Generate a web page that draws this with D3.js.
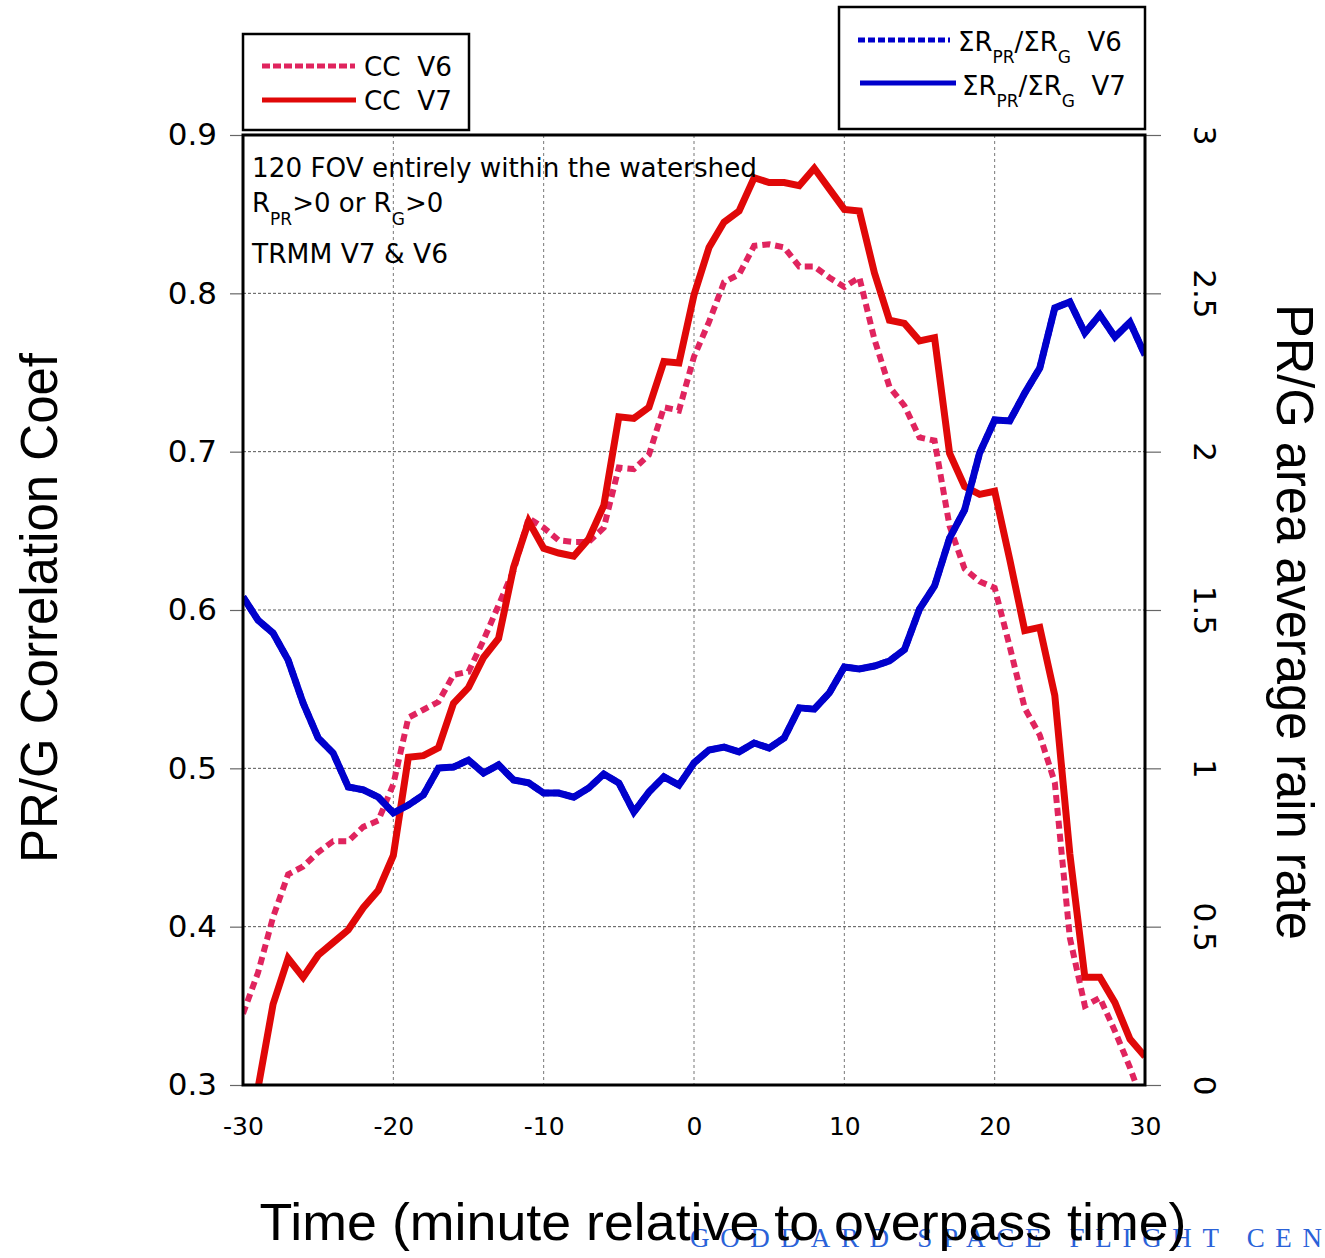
<!DOCTYPE html>
<html>
<head>
<meta charset="utf-8">
<script src="https://cdn.jsdelivr.net/npm/d3@7"></script>
<style>
  html, body { margin: 0; padding: 0; background: #fff; }
  svg { display: block; }
</style>
</head>
<body>
<svg id="chart" width="1325" height="1258"></svg>
<script>
// Time axis (minutes relative to overpass time)
const minutes = [-30,-29,-28,-27,-26,-25,-24,-23,-22,-21,-20,-19,-18,-17,-16,-15,-14,-13,-12,-11,-10,
  -9,-8,-7,-6,-5,-4,-3,-2,-1,0,1,2,3,4,5,6,7,8,9,10,11,12,13,14,15,16,17,18,19,20,
  21,22,23,24,25,26,27,28,29,30];

// PR/G correlation coefficient, V6 and V7
const ccV6 = [0.345,0.371,0.406,0.433,0.438,0.447,0.454,0.454,0.463,0.467,0.490,
  0.532,0.537,0.542,0.559,0.561,0.581,0.603,0.625,0.658,0.652,
  0.644,0.643,0.643,0.652,0.690,0.689,0.698,0.728,0.726,0.760,
  0.782,0.807,0.812,0.830,0.831,0.829,0.817,0.817,0.810,0.804,
  0.810,0.771,0.741,0.729,0.709,0.707,0.653,0.626,0.618,0.614,
  0.577,0.538,0.521,0.491,0.393,0.350,0.355,0.334,0.311,0.285];
const ccV7 = [0.250,0.298,0.351,0.380,0.368,0.382,0.390,0.398,0.412,0.423,0.445,
  0.507,0.508,0.513,0.541,0.551,0.570,0.582,0.627,0.656,0.639,
  0.636,0.634,0.645,0.666,0.722,0.721,0.728,0.757,0.756,0.799,
  0.829,0.845,0.852,0.873,0.870,0.870,0.868,0.879,0.866,0.853,
  0.852,0.813,0.783,0.781,0.770,0.772,0.699,0.678,0.673,0.675,
  0.632,0.587,0.589,0.546,0.446,0.368,0.368,0.352,0.329,0.318];

// Ratio of area-summed PR rain to gauge rain, V6 and V7
const ratioV6 = [1.541,1.468,1.427,1.342,1.206,1.096,1.048,0.941,0.932,0.909,0.859,
  0.884,0.916,1.001,1.004,1.026,0.985,1.011,0.963,0.954,0.922,
  0.922,0.909,0.938,0.982,0.954,0.862,0.925,0.973,0.947,1.017,
  1.058,1.067,1.052,1.080,1.064,1.096,1.191,1.187,1.238,1.320,
  1.314,1.323,1.339,1.375,1.503,1.576,1.727,1.816,1.996,2.100,
  2.097,2.185,2.264,2.454,2.473,2.375,2.432,2.362,2.409,2.305];
const ratioV7 = [1.541,1.468,1.427,1.342,1.206,1.096,1.048,0.941,0.932,0.909,0.859,
  0.884,0.916,1.001,1.004,1.026,0.985,1.011,0.963,0.954,0.922,
  0.922,0.909,0.938,0.982,0.954,0.862,0.925,0.973,0.947,1.017,
  1.058,1.067,1.052,1.080,1.064,1.096,1.191,1.187,1.238,1.320,
  1.314,1.323,1.339,1.375,1.503,1.576,1.727,1.816,1.996,2.100,
  2.097,2.185,2.264,2.454,2.473,2.375,2.432,2.362,2.409,2.305];

// Tick values and labels
const xTicks = [-30,-20,-10,0,10,20,30];
const leftTicks = [0.3,0.4,0.5,0.6,0.7,0.8,0.9];
const rightTicks = [0,0.5,1,1.5,2,2.5,3];
const rightTickLabels = ["0","0.5","1","1.5","2","2.5","3"];

const RED = "#e00808", PINK = "#e0245e", BLUE = "#0000cc";
const TICK_FONT = "'DejaVu Sans', sans-serif";
const TITLE_FONT = "'Liberation Sans', Arial, sans-serif";
const GAP = "\u00A0\u00A0";

const svg = d3.select("#chart");
const plot = {left: 243, right: 1145, top: 135, bottom: 1085};

const x = d3.scaleLinear().domain([-30, 30]).range([plot.left, plot.right]);
const yL = d3.scaleLinear().domain([0.3, 0.9]).range([plot.bottom, plot.top]);
const yR = d3.scaleLinear().domain([0, 3]).range([plot.bottom, plot.top]);

// Watermark strip along the bottom edge
svg.append("text")
  .attr("x", 690).attr("y", 1247)
  .attr("textLength", 632).attr("lengthAdjust", "spacing")
  .style("font-family", "'Liberation Serif', serif")
  .style("font-size", "27px")
  .style("fill", "#2a62d8")
  .text("GODDARD SPACE FLIGHT CEN");

svg.append("clipPath").attr("id", "plotClip")
  .append("rect")
  .attr("x", plot.left).attr("y", plot.top)
  .attr("width", plot.right - plot.left).attr("height", plot.bottom - plot.top);

// Grid
const grid = svg.append("g");
grid.selectAll("line.h").data(leftTicks.slice(1, -1)).join("line")
  .attr("x1", plot.left).attr("x2", plot.right)
  .attr("y1", d => yL(d)).attr("y2", d => yL(d))
  .attr("stroke", "#555").attr("stroke-width", 1).attr("stroke-dasharray", "3,2");
grid.selectAll("line.v").data(xTicks.slice(1, -1)).join("line")
  .attr("y1", plot.top).attr("y2", plot.bottom)
  .attr("x1", d => x(d)).attr("x2", d => x(d))
  .attr("stroke", "#777").attr("stroke-width", 1).attr("stroke-dasharray", "3,3");

// Axes (ticks outside the frame)
const leftAxis = d3.axisLeft(yL).tickValues(leftTicks).tickSize(13).tickFormat(d3.format(".1f")).tickPadding(13);
const gl = svg.append("g").attr("transform", `translate(${plot.left},0)`).call(leftAxis);
gl.select(".domain").remove();
gl.selectAll(".tick line").attr("stroke", "#666").attr("stroke-width", 1.2);
gl.selectAll(".tick text").style("font-family", TICK_FONT).style("font-size", "31px").attr("fill", "#000");

const rightAxis = d3.axisRight(yR).tickValues(rightTicks).tickSize(16).tickFormat((d, i) => rightTickLabels[i]);
const gr = svg.append("g").attr("transform", `translate(${plot.right},0)`).call(rightAxis);
gr.select(".domain").remove();
gr.selectAll(".tick line").attr("stroke", "#666").attr("stroke-width", 1.2);
gr.selectAll(".tick text")
  .attr("x", 0).attr("y", 0).attr("dy", null)
  .attr("text-anchor", "middle")
  .attr("transform", "translate(48,0) rotate(90) translate(0,-1)")
  .style("font-family", TICK_FONT).style("font-size", "31px").attr("fill", "#000");

const bottomAxis = d3.axisBottom(x).tickValues(xTicks).tickSize(0).tickPadding(32).tickFormat(d3.format("d"));
const gb = svg.append("g").attr("transform", `translate(0,${plot.bottom})`).call(bottomAxis);
gb.select(".domain").remove();
gb.selectAll(".tick text").style("font-family", TICK_FONT).style("font-size", "25px").attr("fill", "#000")
  .text(d => d < 0 ? "-" + Math.abs(d) : String(d));

// Series lines
const lines = svg.append("g").attr("clip-path", "url(#plotClip)");
const lineL = vals => d3.line().x((d, i) => x(minutes[i])).y(d => yL(d))(vals);
const lineR = vals => d3.line().x((d, i) => x(minutes[i])).y(d => yR(d))(vals);

lines.append("path").attr("d", lineR(ratioV6))
  .attr("fill", "none").attr("stroke", BLUE).attr("stroke-width", 6.5).attr("stroke-dasharray", "7,4");
lines.append("path").attr("d", lineL(ccV6))
  .attr("fill", "none").attr("stroke", PINK).attr("stroke-width", 6).attr("stroke-dasharray", "8,5");
lines.append("path").attr("d", lineL(ccV7))
  .attr("fill", "none").attr("stroke", RED).attr("stroke-width", 7);
lines.append("path").attr("d", lineR(ratioV7))
  .attr("fill", "none").attr("stroke", BLUE).attr("stroke-width", 7);

// Frame
svg.append("rect")
  .attr("x", plot.left).attr("y", plot.top)
  .attr("width", plot.right - plot.left).attr("height", plot.bottom - plot.top)
  .attr("fill", "none").attr("stroke", "#000").attr("stroke-width", 3);

// Annotation block
const ann = svg.append("g").style("font-family", TICK_FONT).style("font-size", "26px").attr("fill", "#000");
ann.append("text").attr("x", 252).attr("y", 177).attr("textLength", 505).attr("lengthAdjust", "spacingAndGlyphs")
  .text("120 FOV entirely within the watershed");
const t2 = ann.append("text").attr("x", 252).attr("y", 212);
t2.append("tspan").text("R");
t2.append("tspan").attr("dy", 13).style("font-size", "17px").text("PR");
t2.append("tspan").attr("dy", -13).text(">0 or R");
t2.append("tspan").attr("dy", 13).style("font-size", "17px").text("G");
t2.append("tspan").attr("dy", -13).text(">0");
ann.append("text").attr("x", 252).attr("y", 263).attr("textLength", 196).attr("lengthAdjust", "spacingAndGlyphs")
  .text("TRMM V7 & V6");

// Legend: correlation coefficients
const lg1 = svg.append("g");
lg1.append("rect").attr("x", 243).attr("y", 34).attr("width", 226).attr("height", 96)
  .attr("fill", "#fff").attr("stroke", "#000").attr("stroke-width", 2.5);
lg1.append("line").attr("x1", 262).attr("x2", 355).attr("y1", 66).attr("y2", 66)
  .attr("stroke", PINK).attr("stroke-width", 5).attr("stroke-dasharray", "8,3");
lg1.append("line").attr("x1", 262).attr("x2", 356).attr("y1", 100).attr("y2", 100)
  .attr("stroke", RED).attr("stroke-width", 5);
const lgText1 = lg1.append("g").style("font-family", TICK_FONT).style("font-size", "26px").attr("fill", "#000");
lgText1.append("text").attr("x", 364).attr("y", 76).attr("textLength", 88).attr("lengthAdjust", "spacingAndGlyphs").text("CC" + GAP + "V6");
lgText1.append("text").attr("x", 364).attr("y", 110).attr("textLength", 88).attr("lengthAdjust", "spacingAndGlyphs").text("CC" + GAP + "V7");

// Legend: rain-rate ratios
const lg2 = svg.append("g");
lg2.append("rect").attr("x", 839).attr("y", 7).attr("width", 306).attr("height", 122)
  .attr("fill", "#fff").attr("stroke", "#000").attr("stroke-width", 2.5);
lg2.append("line").attr("x1", 858).attr("x2", 950).attr("y1", 40).attr("y2", 40)
  .attr("stroke", BLUE).attr("stroke-width", 5).attr("stroke-dasharray", "7,3");
lg2.append("line").attr("x1", 860).attr("x2", 956).attr("y1", 83).attr("y2", 83)
  .attr("stroke", BLUE).attr("stroke-width", 5);
function ratioLabel(g, x0, y0, ver) {
  const t = g.append("text").attr("x", x0).attr("y", y0)
    .style("font-family", TICK_FONT).style("font-size", "26px").attr("fill", "#000");
  t.append("tspan").text("ΣR");
  t.append("tspan").attr("dy", 12).style("font-size", "17px").text("PR");
  t.append("tspan").attr("dy", -12).text("/ΣR");
  t.append("tspan").attr("dy", 12).style("font-size", "17px").text("G");
  t.append("tspan").attr("dy", -12).text(GAP + ver);
  return t;
}
ratioLabel(lg2, 958, 51, "V6");
ratioLabel(lg2, 962, 95, "V7");

// Axis titles
svg.append("text")
  .attr("transform", "translate(57,608) rotate(-90)")
  .attr("text-anchor", "middle")
  .attr("textLength", 510).attr("lengthAdjust", "spacingAndGlyphs")
  .style("font-family", TITLE_FONT).style("font-size", "51px").attr("fill", "#000")
  .text("PR/G Correlation Coef");
svg.append("text")
  .attr("transform", "translate(1277,622) rotate(90)")
  .attr("text-anchor", "middle")
  .attr("textLength", 636).attr("lengthAdjust", "spacingAndGlyphs")
  .style("font-family", TITLE_FONT).style("font-size", "51px").attr("fill", "#000")
  .text("PR/G area average rain rate");
svg.append("text")
  .attr("x", 723).attr("y", 1240)
  .attr("text-anchor", "middle")
  .attr("textLength", 927).attr("lengthAdjust", "spacingAndGlyphs")
  .style("font-family", TITLE_FONT).style("font-size", "52px").attr("fill", "#000")
  .text("Time (minute relative to overpass time)");
</script>
</body>
</html>
